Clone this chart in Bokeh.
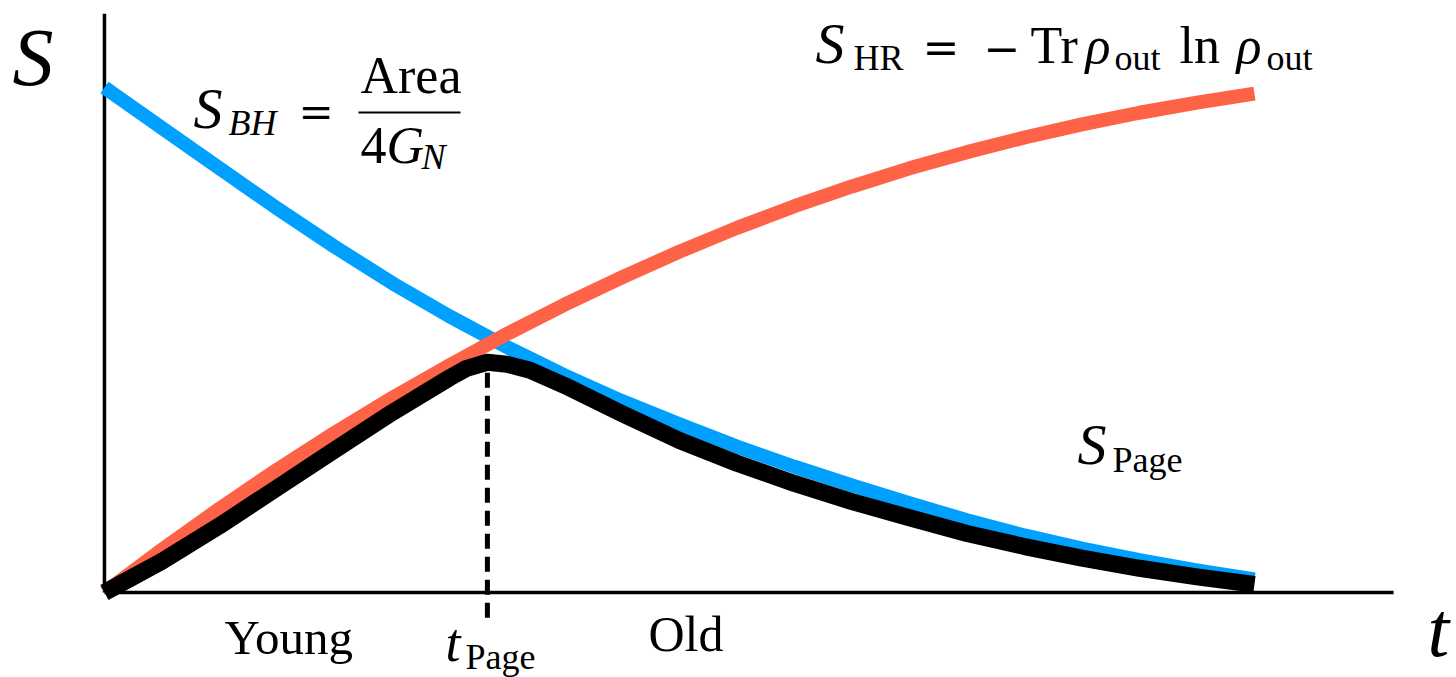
from bokeh.plotting import figure
from bokeh.models import Range1d, Label, BoxAnnotation
from bokeh.embed import file_html
from bokeh.resources import INLINE

W, H = 1456, 677

# time in units of the evaporation time, entropy in units of the initial S_BH
t = [0.00, 0.05, 0.10, 0.15, 0.20, 0.25, 0.30, 0.35, 0.40, 0.45, 0.50,
     0.55, 0.60, 0.65, 0.70, 0.75, 0.80, 0.85, 0.90, 0.95, 1.00]

# Bekenstein-Hawking entropy of the shrinking black hole
s_bh = [1.000, 0.920, 0.840, 0.761, 0.685, 0.613, 0.547, 0.486, 0.430, 0.379, 0.333,
        0.289, 0.249, 0.212, 0.177, 0.143, 0.113, 0.087, 0.064, 0.044, 0.026]

# entropy of the Hawking radiation (thermal count)
s_hr = [0.000, 0.085, 0.166, 0.243, 0.316, 0.385, 0.450, 0.512, 0.570, 0.624, 0.675,
        0.722, 0.765, 0.804, 0.840, 0.872, 0.901, 0.927, 0.950, 0.970, 0.988]

# Page curve, sampled a little more finely around the turnover
t_pg = [0.00, 0.05, 0.10, 0.15, 0.20, 0.25, 0.30, 0.315, 0.333, 0.35, 0.37, 0.40,
        0.45, 0.50, 0.55, 0.60, 0.65, 0.70, 0.75, 0.80, 0.85, 0.90, 0.95, 1.00]
s_pg = [0.000, 0.062, 0.132, 0.207, 0.282, 0.356, 0.425, 0.444, 0.456, 0.452, 0.440, 0.410,
        0.354, 0.301, 0.256, 0.216, 0.180, 0.148, 0.117, 0.091, 0.068, 0.048, 0.031, 0.016]

t_page = 0.333
s_page_peak = 0.456

# extent of the hand-drawn axes
T_AXIS_END = 1.121
S_AXIS_END = 1.146
S_TICK_LOW = -0.05

BLUE = "#00A0FF"
RED = "#FF6347"

p = figure(width=W, height=H,
           x_range=Range1d(-0.0904, 1.1757), y_range=Range1d(-0.1683, 1.1723),
           output_backend="svg", toolbar_location=None,
           x_axis_location=None, y_axis_location=None,
           min_border=0, outline_line_color=None,
           background_fill_color="white", border_fill_color="white")
p.grid.grid_line_color = None

# axes
p.segment(x0=[0, 0], y0=[0, 0], x1=[0, T_AXIS_END], y1=[S_AXIS_END, 0],
          line_width=3.5, line_color="black")

# curves
p.line(t, s_bh, line_color=BLUE, line_width=14, line_cap="butt", line_join="round")
p.line(t, s_hr, line_color=RED, line_width=14, line_cap="butt", line_join="round")
p.segment(x0=[t_page], y0=[S_TICK_LOW], x1=[t_page], y1=[s_page_peak],
          line_color="black", line_width=5, line_dash="15 8")
p.line(t_pg, s_pg, line_color="black", line_width=17, line_cap="butt", line_join="round")

SERIF = "Liberation Serif"
MATH = "DejaVu Serif"


def put(txt, x, base, size, italic=False, font=SERIF):
    # labels are anchored by their middle, so shift to put the baseline at `base`
    mid = base - 0.33 * size
    p.add_layout(Label(x=x, y=H - mid, x_units="screen", y_units="screen",
                       text=txt, text_font=font,
                       text_font_style="italic" if italic else "normal",
                       text_font_size=f"{size}px", text_color="black",
                       text_baseline="alphabetic", text_align="left"))


def bar(x0, x1, y, thick=2):
    p.add_layout(BoxAnnotation(left=x0, right=x1, top=H - y + thick / 2, bottom=H - y - thick / 2,
                               left_units="screen", right_units="screen",
                               top_units="screen", bottom_units="screen",
                               fill_color="black", fill_alpha=1.0, line_color=None))


# axis names
put("S", 12, 84, 82, True)
put("t", 1427, 655, 78, True)

# S_BH = Area / 4G_N
put("S", 193, 127, 58, True)
put("BH", 228, 134, 36, True)
put("=", 298, 126, 42, font=MATH)
put("Area", 360, 92, 52)
bar(358, 460, 112)
put("4", 360, 162, 52)
put("G", 386, 162, 52, True)
put("N", 421, 168, 36, True)

# S_HR = -Tr rho_out ln rho_out
put("S", 815, 62, 58, True)
put("HR", 853, 69, 36)
put("=", 922, 62, 44, font=MATH)
put("\u2212", 983, 62, 44, font=MATH)
put("Tr", 1030, 62, 52)
put("\u03c1", 1085, 62, 52, True)
put("out", 1114, 69, 36)
put("ln", 1179, 62, 52)
put("\u03c1", 1236, 62, 52, True)
put("out", 1266, 69, 36)

# S_Page
put("S", 1077, 463, 58, True)
put("Page", 1112, 471, 36)

# t_Page and the two regimes
put("t", 445, 660, 54, True)
put("Page", 465, 668, 36)
put("Young", 224, 653, 49)
put("Old", 648, 650, 50)

open("out.html", "w").write(file_html(p, INLINE))
